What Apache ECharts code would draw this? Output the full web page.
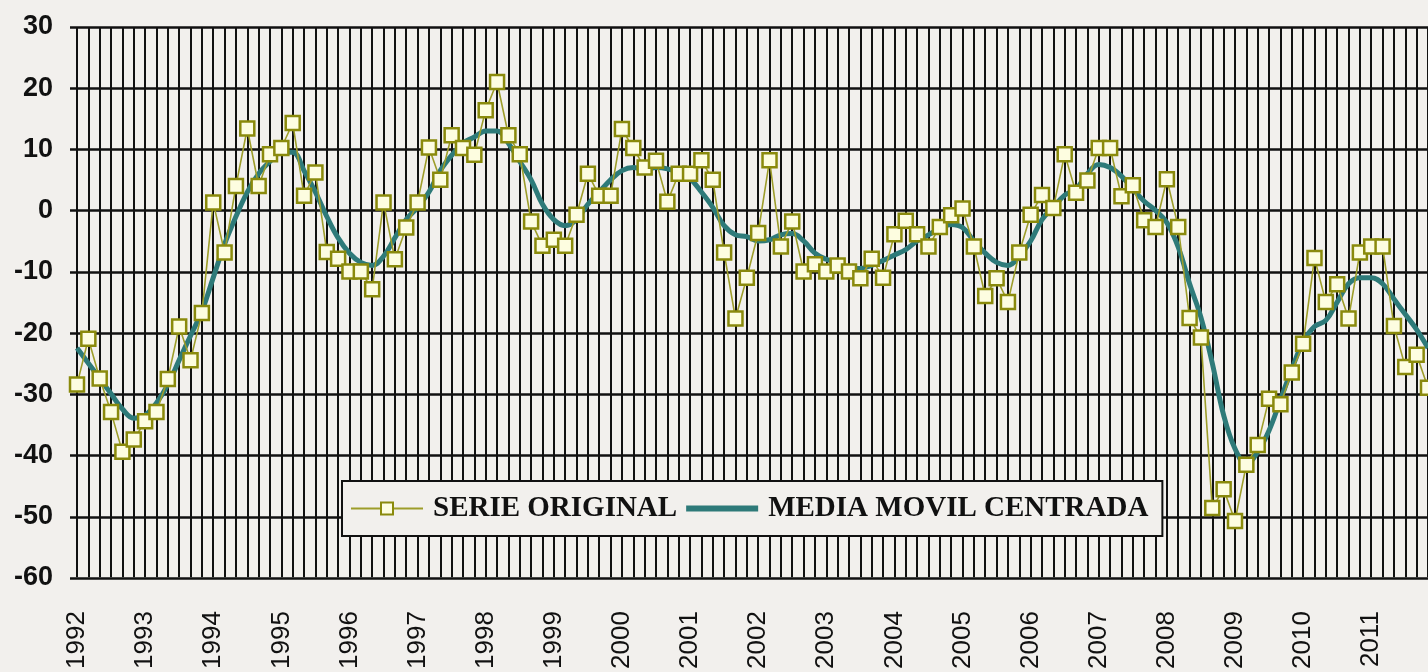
<!DOCTYPE html>
<html>
<head>
<meta charset="utf-8">
<script src="https://cdn.jsdelivr.net/npm/echarts@6/dist/echarts.min.js"></script>
<style>
html,body{margin:0;padding:0;background:#f2f0ed;}
#chart{width:1428px;height:672px;}
</style>
</head>
<body>
<div id="chart"></div>
<script>
// Years shown on the x axis (six bimonthly observations per year)
const years = ['1992','1993','1994','1995','1996','1997','1998','1999','2000','2001',
               '2002','2003','2004','2005','2006','2007','2008','2009','2010','2011'];
const periods = ['1','2','3','4','5','6'];

// SERIE ORIGINAL
const serieOriginal = [
  -28.5, -21, -27.5, -33, -39.5, -37.5,
  -34.5, -33, -27.6, -19, -24.5, -16.8,
  1.3, -6.9, 4, 13.4, 4, 9.2,
  10.2, 14.3, 2.4, 6.2, -6.8, -7.9,
  -10, -10, -12.9, 1.3, -8, -2.8,
  1.3, 10.3, 5, 12.3, 10.2, 9.1,
  16.4, 21, 12.3, 9.2, -1.8, -5.8,
  -4.8, -5.8, -0.7, 6, 2.4, 2.4,
  13.3, 10.2, 7, 8.1, 1.4, 6,
  6, 8.2, 5, -6.9, -17.7, -11,
  -3.7, 8.2, -5.9, -1.8, -10, -8.8,
  -10, -9, -10, -11.1, -7.9, -11,
  -3.9, -1.7, -3.9, -5.9, -2.7, -0.8,
  0.3, -5.9, -14, -11.1, -15, -6.9,
  -0.7, 2.5, 0.4, 9.2, 2.9, 4.9,
  10.2, 10.2, 2.3, 4.1, -1.6, -2.7,
  5.1, -2.7, -17.6, -20.8, -48.7, -45.6,
  -50.8, -41.6, -38.4, -30.8, -31.7, -26.5,
  -21.8, -7.8, -15, -12.1, -17.7, -6.9,
  -5.9, -5.9, -18.9, -25.6, -23.6, -29
];

// MEDIA MOVIL CENTRADA
const mediaMovil = [
  -22.5, -25, -27.5, -30, -32.5, -34,
  -33.5, -31.5, -28.5, -24.5, -20.5, -16.5,
  -11, -5.5, -1, 3, 6, 8,
  9.5, 9.5, 6.5, 3, -1, -4.5,
  -7, -8.5, -9, -7.5, -4.5, -1.5,
  0.5, 3, 6.5, 9, 11, 12,
  13, 13, 11, 8, 5, 1,
  -1.5, -2.5, -1.5, 1, 3, 5,
  6.5, 7, 6.7, 7, 6.8, 6.2,
  5.2, 3, 0.5, -2.5, -4, -4.3,
  -5, -4.8, -4, -3.8, -5, -7,
  -8, -8.5, -9.5, -9.5, -9, -8.2,
  -7.3, -6.4, -5, -4, -3, -2.3,
  -2.8, -5, -7, -8.5, -9, -7.5,
  -5, -1.5, 0.5, 2.5, 3.5, 6,
  7.5, 7, 5.6, 3.5, 1.5, 0,
  -2, -6, -12, -17.5, -25, -33.5,
  -39, -41.5, -39.5, -36, -31, -26,
  -21.5, -19, -18, -15, -12, -11,
  -11, -12, -14.5, -17, -19.5, -22.5
];

// Y axis range / ticks
const yMin = -60, yMax = 30, yStep = 10;

const categories = [];
years.forEach(y => periods.forEach(p => categories.push(y + '-' + p)));

const BG = '#f2f0ed';
const OLIVE_LINE = '#9d9d2a';
const TEAL = '#2e7a79';
const chart = echarts.init(document.getElementById('chart'));
chart.setOption({
  animation: false,
  backgroundColor: BG,
  grid: [
    {left: 77, right: -3, top: 27, bottom: 94},
    {left: 70, right: -3, top: 27, bottom: 94}
  ],
  xAxis: [
    {
      type: 'category', gridIndex: 0, data: categories, boundaryGap: false,
      axisLine: {show: false}, axisTick: {show: false},
      axisLabel: {
        interval: 5, rotate: 90, margin: 34, fontSize: 26,
        fontFamily: 'Liberation Sans', color: '#111',
        formatter: v => v.split('-')[0]
      },
      splitLine: {show: true, interval: 0, lineStyle: {color: '#111', width: 2}}
    },
    {type: 'value', gridIndex: 1, min: 0, max: 1, show: false}
  ],
  yAxis: [
    {type: 'value', gridIndex: 0, min: yMin, max: yMax, interval: yStep, show: false},
    {
      type: 'value', gridIndex: 1, min: yMin, max: yMax, interval: yStep,
      axisLine: {show: false}, axisTick: {show: false},
      axisLabel: {fontSize: 27, fontWeight: 'bold', fontFamily: 'Liberation Sans', color: '#111', margin: 17},
      splitLine: {show: true, lineStyle: {color: '#111', width: 2.5}}
    }
  ],
  legend: {
    data: [
      {name: 'SERIE ORIGINAL'},
      {name: 'MEDIA MOVIL CENTRADA', icon: 'path://M0,0L72,0L72,6L0,6Z'}
    ],
    left: 342, top: 481,
    padding: [13, 14, 13, 8],
    itemWidth: 72, itemHeight: 15, itemGap: 9,
    borderColor: '#111', borderWidth: 2,
    backgroundColor: BG,
    textStyle: {fontFamily: 'Liberation Serif', fontWeight: 'bold', fontSize: 29, color: '#111', padding: [0, 0, 0, 5]},
    z: 10
  },
  series: [
    {
      name: 'SERIE ORIGINAL', type: 'line', xAxisIndex: 0, yAxisIndex: 0,
      data: serieOriginal, symbol: 'rect', symbolSize: 14, showAllSymbol: true,
      itemStyle: {color: '#fdfde0', borderColor: '#8a8a0c', borderWidth: 2.5},
      lineStyle: {color: OLIVE_LINE, width: 1.6},
      z: 3
    },
    {
      name: 'MEDIA MOVIL CENTRADA', type: 'line', xAxisIndex: 0, yAxisIndex: 0,
      data: mediaMovil, smooth: 0.4, symbol: 'none',
      lineStyle: {color: TEAL, width: 5},
      itemStyle: {color: TEAL},
      z: 2
    }
  ]
});
</script>
</body>
</html>
